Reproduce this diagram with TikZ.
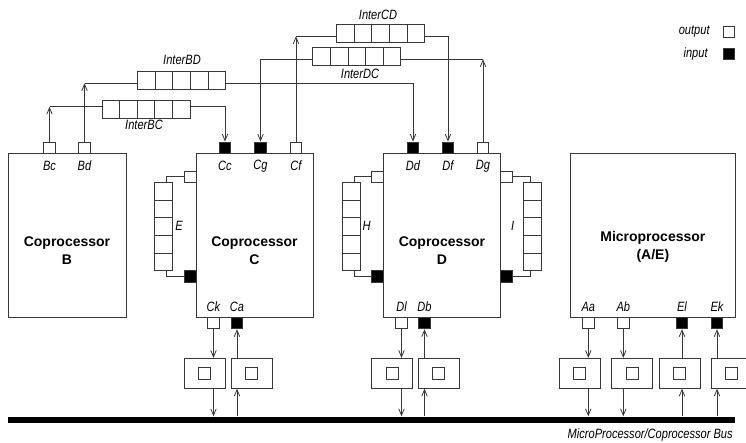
\documentclass[tikz,border=0pt]{standalone}
\usepackage{fontspec}
\setmainfont{Liberation Sans}
\newfontfamily\narfont[FakeStretch=0.82]{Liberation Sans}
\usetikzlibrary{arrows.meta,calc}
\definecolor{lc}{gray}{0.22}
\tikzset{
  lw/.style={line width=0.8pt},
  arr/.style={-{Straight Barb[length=6.5pt,width=5.5pt]}},
  proc/.style={draw=lc, lw, fill=white, inner sep=0, minimum height=163.8},
  outp/.style={draw=lc, lw, fill=white, inner sep=0, minimum size=11.5},
  inp/.style={draw=lc, lw, fill=black, inner sep=0, minimum size=11.5},
  bufbox/.style={draw=lc, lw, fill=white, inner sep=0, minimum width=41, minimum height=30},
  innersq/.style={draw=lc, lw, fill=white, inner sep=0, minimum size=12},
  lab/.style={font=\narfont\itshape\fontsize{13.5}{14}\selectfont, inner sep=0},
  title/.style={font=\bfseries\fontsize{14}{18}\selectfont, align=center, inner sep=0},
  hq/.style={draw=lc, lw, fill=white, inner sep=0, minimum width=88, minimum height=18,
    path picture={\foreach \i in {1,2,3,4}{\draw[lc,lw]
      ($(path picture bounding box.south west)!\i/5!(path picture bounding box.south east)$) --
      ($(path picture bounding box.north west)!\i/5!(path picture bounding box.north east)$);}}},
  vq/.style={draw=lc, lw, fill=white, inner sep=0, minimum width=18, minimum height=88,
    path picture={\foreach \i in {1,2,3,4}{\draw[lc,lw]
      ($(path picture bounding box.north west)!\i/5!(path picture bounding box.south west)$) --
      ($(path picture bounding box.north east)!\i/5!(path picture bounding box.south east)$);}}},
}
\begin{document}
\begin{tikzpicture}[x=1pt,y=-1pt,lw,draw=lc]
\useasboundingbox (0,0) rectangle (746,443);
% processors
\node[proc, minimum width=118] (B) at (67,235.4) {};
\node[proc, minimum width=117] (C) at (254.5,235.4) {};
\node[proc, minimum width=117.4] (D) at (442,235.4) {};
\node[proc, minimum width=164.3] (A) at (652.85,235.4) {};
\node[title] (tB) at (67,251) {Coprocessor\\B};
\node[title] (tC) at (254.5,251) {Coprocessor\\C};
\node[title] (tD) at (442,251) {Coprocessor\\D};
\node[title] (tA) at (652.85,247) {Microprocessor\\(A/E)};
% top ports
\node[outp] (Bc) at (49.5,147.75) {};
\node[outp] (Bd) at (84.5,147.75) {};
\node[inp] (Cc) at (225,147.75) {};
\node[inp] (Cg) at (260.5,147.75) {};
\node[outp] (Cf) at (296,147.75) {};
\node[inp] (Dd) at (413,147.75) {};
\node[inp] (Df) at (448,147.75) {};
\node[outp] (Dg) at (483,147.75) {};
\foreach \n/\x in {Bc/49.5,Bd/84.5,Cc/225,Cg/260.5,Cf/296,Dd/413,Df/448,Dg/483}
  \node[lab] (l\n) at (\x,166) {\n};
% bottom ports
\node[outp] (Ck) at (213.5,323.05) {};
\node[inp] (Ca) at (237,323.05) {};
\node[outp] (Dl) at (401.5,323.05) {};
\node[inp] (Db) at (424.5,323.05) {};
\node[outp] (Aa) at (588.3,323.05) {};
\node[outp] (Ab) at (623.3,323.05) {};
\node[inp] (El) at (682,323.05) {};
\node[inp] (Ek) at (717,323.05) {};
\foreach \n/\x in {Ck/213.5,Ca/237,Dl/401.5,Db/424.5,Aa/588.3,Ab/623.3,El/682,Ek/717}
  \node[lab] (l\n) at (\x,307) {\n};
% bus
\node[fill=black, draw=none, inner sep=0, minimum width=727, minimum height=6] (bus) at (371.5,419.7) {};
\node[lab, anchor=east] (busl) at (733,435) {MicroProcessor/Coprocessor Bus};
% buffer boxes
\foreach \n/\x in {Ck/204.7,Ca/251.5,Dl/392,Db/438.8,Aa/579.8,Ab/632.2,El/679.5,Ek/731.5}{
  \node[bufbox] (b\n) at (\x,373.3) {};
  \node[innersq] (s\n) at (\x,373.3) {};
}
% output connectors to bus
\foreach \n in {Ck,Dl,Aa,Ab}{
  \draw[arr] (\n.south) -- (\n.south |- b\n.north);
  \draw[arr] (\n.south |- b\n.south) -- (\n.south |- bus.north);
}
\foreach \n in {Ca,Db,El,Ek}{
  \draw[arr] (\n.south |- bus.north) -- (\n.south |- b\n.south);
  \draw[arr] (\n.south |- b\n.north) -- (\n.south);
}
% side queues
\node[vq] (E) at (163.3,226.7) {};
\node[vq] (H) at (351.3,226.7) {};
\node[vq] (I) at (532.8,226.7) {};
\node[outp] (Eo) at (190.25,176.8) {};
\node[inp] (Ei) at (190.25,276.5) {};
\node[outp] (Ho) at (377.55,176.8) {};
\node[inp] (Hi) at (377.55,276.5) {};
\node[outp] (Io) at (506.45,176.8) {};
\node[inp] (Ii) at (506.45,276.5) {};
\node[lab] (lE) at (179,226) {E};
\node[lab] (lH) at (366.7,226) {H};
\node[lab] (lI) at (512.7,226) {I};
\coordinate (xE) at (166.7,0);
\coordinate (xH) at (354.3,0);
\coordinate (xI) at (530,0);
\draw (Eo.west) -| (xE |- E.north);
\draw (xE |- E.south) |- (Ei.west);
\draw (Ho.west) -| (xH |- H.north);
\draw (xH |- H.south) |- (Hi.west);
\draw (Io.east) -| (xI |- I.north);
\draw (xI |- I.south) |- (Ii.east);
% inter queues
\node[hq] (InterCD) at (380.5,33.3) {};
\node[hq] (InterDC) at (356.8,56.8) {};
\node[hq] (InterBD) at (181.5,80.4) {};
\node[hq] (InterBC) at (146,109.4) {};
\node[lab] (lCD) at (378,14.5) {InterCD};
\node[lab] (lDC) at (360,74) {InterDC};
\node[lab] (lBD) at (182,60) {InterBD};
\node[lab] (lBC) at (144,125) {InterBC};
\coordinate (yCD) at (0,36.3);
\coordinate (yDC) at (0,59.3);
\coordinate (yBD) at (0,83.3);
\coordinate (yBC) at (0,106.8);
% InterBC: Bc -> Cc
\draw[arr] (Bc.north) -- (Bc.north |- yBC);
\draw (Bc.north |- yBC) -- (InterBC.west |- yBC);
\draw[arr] (InterBC.east |- yBC) -| (Cc.north);
% InterBD: Bd -> Dd
\draw[arr] (Bd.north) -- (Bd.north |- yBD);
\draw (Bd.north |- yBD) -- (InterBD.west |- yBD);
\draw[arr] (InterBD.east |- yBD) -| (Dd.north);
% InterCD: Cf -> Df
\draw[arr] (Cf.north) -- (Cf.north |- yCD);
\draw (Cf.north |- yCD) -- (InterCD.west |- yCD);
\draw[arr] (InterCD.east |- yCD) -| (Df.north);
% InterDC: Dg -> Cg
\draw[arr] (Dg.north) -- (Dg.north |- yDC);
\draw (Dg.north |- yDC) -- (InterDC.east |- yDC);
\draw[arr] (InterDC.west |- yDC) -| (Cg.north);
% legend
\node[lab, anchor=east] (lout) at (710,32) {output};
\node[outp, minimum size=11] (legout) at (729,31.7) {};
\node[lab, anchor=east] (lin) at (708,54) {input};
\node[inp, minimum size=11] (legin) at (729,54) {};
\end{tikzpicture}
\end{document}
